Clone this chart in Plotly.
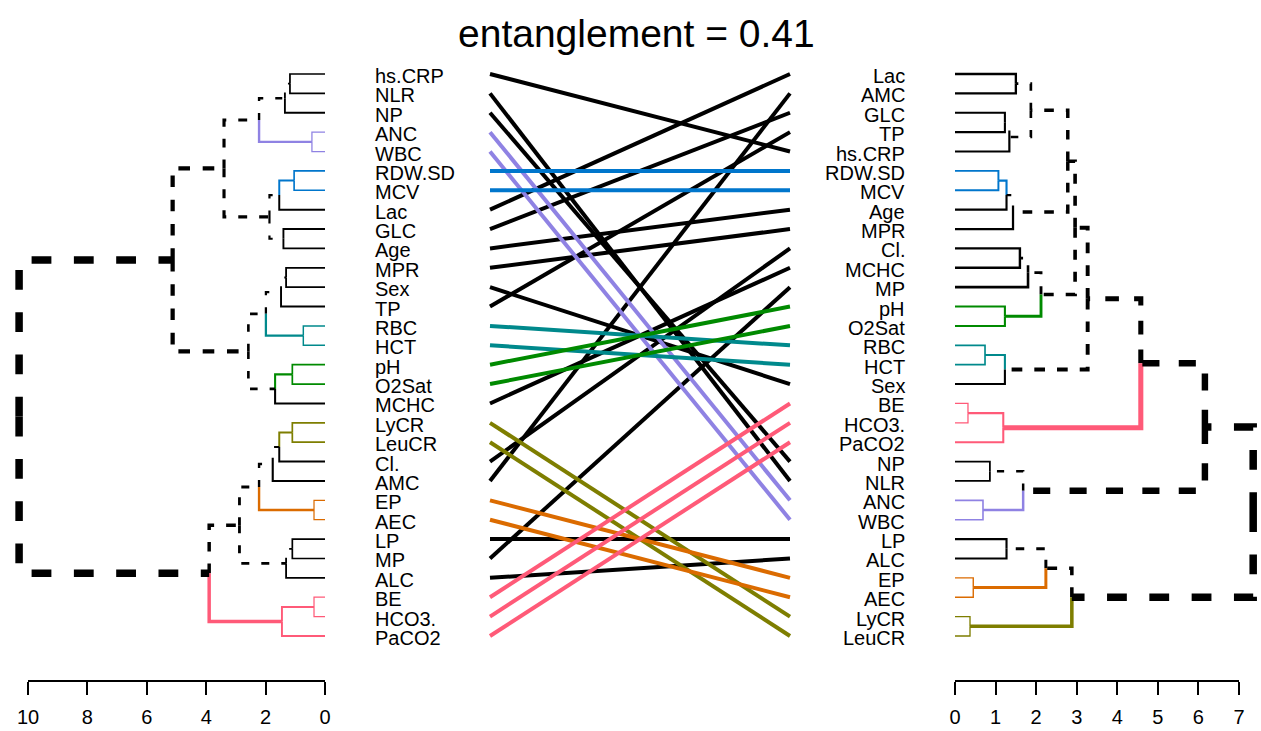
import plotly.graph_objects as go

# ---------------- data ----------------
left_labels = ["hs.CRP", "NLR", "NP", "ANC", "WBC", "RDW.SD", "MCV", "Lac", "GLC", "Age",
               "MPR", "Sex", "TP", "RBC", "HCT", "pH", "O2Sat", "MCHC", "LyCR", "LeuCR",
               "Cl.", "AMC", "EP", "AEC", "LP", "MP", "ALC", "BE", "HCO3.", "PaCO2"]
right_labels = ["Lac", "AMC", "GLC", "TP", "hs.CRP", "RDW.SD", "MCV", "Age", "MPR", "Cl.",
                "MCHC", "MP", "pH", "O2Sat", "RBC", "HCT", "Sex", "BE", "HCO3.", "PaCO2",
                "NP", "NLR", "ANC", "WBC", "LP", "ALC", "EP", "AEC", "LyCR", "LeuCR"]

# merges: (child a, child b, height); "#k" refers to the k-th merge
left_merges = [
    ("hs.CRP", "NLR", 1.18), ("#0", "NP", 1.35), ("ANC", "WBC", 0.44), ("#1", "#2", 2.22),
    ("RDW.SD", "MCV", 1.04), ("#4", "Lac", 1.54), ("GLC", "Age", 1.40), ("#5", "#6", 1.87),
    ("#3", "#7", 3.40), ("MPR", "Sex", 1.31), ("#9", "TP", 1.48), ("RBC", "HCT", 0.73),
    ("#10", "#11", 1.99), ("pH", "O2Sat", 1.10), ("#13", "MCHC", 1.68), ("#12", "#14", 2.58),
    ("#8", "#15", 5.13), ("LyCR", "LeuCR", 1.10), ("#17", "Cl.", 1.54), ("#18", "AMC", 1.76),
    ("EP", "AEC", 0.37), ("#19", "#20", 2.22), ("LP", "MP", 1.10), ("#22", "ALC", 1.31),
    ("#21", "#23", 2.88), ("BE", "HCO3.", 0.37), ("#25", "PaCO2", 1.45), ("#24", "#26", 3.90),
    ("#16", "#27", 10.30),
]
right_merges = [
    ("Lac", "AMC", 1.50), ("GLC", "TP", 1.23), ("#1", "hs.CRP", 1.34), ("#0", "#2", 1.87),
    ("RDW.SD", "MCV", 1.07), ("#4", "Age", 1.27), ("#5", "MPR", 1.43), ("#3", "#6", 2.78),
    ("Cl.", "MCHC", 1.60), ("#8", "MP", 1.80), ("pH", "O2Sat", 1.23), ("#9", "#10", 2.12),
    ("#7", "#11", 2.96), ("RBC", "HCT", 0.74), ("#13", "Sex", 1.23), ("#12", "#14", 3.27),
    ("BE", "HCO3.", 0.32), ("#16", "PaCO2", 1.19), ("#15", "#17", 4.58), ("NP", "NLR", 0.86),
    ("ANC", "WBC", 0.69), ("#19", "#20", 1.68), ("#18", "#21", 6.16), ("LP", "ALC", 1.27),
    ("EP", "AEC", 0.45), ("#23", "#24", 2.24), ("LyCR", "LeuCR", 0.37), ("#25", "#26", 2.88),
    ("#22", "#27", 7.35),
]

common_groups = [["RDW.SD", "MCV"], ["ANC", "WBC"], ["RBC", "HCT"], ["pH", "O2Sat"],
                 ["LyCR", "LeuCR"], ["EP", "AEC"], ["BE", "HCO3.", "PaCO2"]]
group_colors = ["#0076CC", "#8F82E3", "#00898C", "#008A00", "#7E7E00", "#DB6B00", "#FF5A78"]

title_text = "entanglement = 0.41"
left_ticks = [10, 8, 6, 4, 2, 0]
right_ticks = [0, 1, 2, 3, 4, 5, 6, 7]

# ---------------- layout constants ----------------
W, H = 1261, 731
LEAF_TOP_PX, LEAF_BOT_PX = 74, 636
PLOT_BOT_PX = 680
L_ZERO_PX, L_PX_UNIT = 325, 29.7
R_ZERO_PX, R_PX_UNIT = 955, 40.57
LEFT_DOM = (0, 340)
MID_DOM = (340, 940)
RIGHT_DOM = (940, 1261)
LINE_X0_PX, LINE_X1_PX = 490, 790
LEFT_LABEL_PX, RIGHT_LABEL_PX = 373, 907

n = len(left_labels)
step = (LEAF_BOT_PX - LEAF_TOP_PX) / (n - 1)
y_top = 1 - LEAF_TOP_PX / step
y_bot = 1 + (PLOT_BOT_PX - LEAF_TOP_PX) / step


def build(merges, labels):
    nodes = {}
    for i, lab in enumerate(labels):
        nodes[lab] = dict(h=0.0, y=i + 1, leaves=frozenset([lab]), leaf=True)
    for k, (a, b, h) in enumerate(merges):
        na, nb = nodes[a], nodes[b]
        nodes["#%d" % k] = dict(h=h, y=(na["y"] + nb["y"]) / 2, leaves=na["leaves"] | nb["leaves"],
                                leaf=False, children=(a, b))
    return nodes


left_nodes = build(left_merges, left_labels)
right_nodes = build(right_merges, right_labels)
left_sets = {v["leaves"] for v in left_nodes.values() if not v["leaf"]}
right_sets = {v["leaves"] for v in right_nodes.values() if not v["leaf"]}


def group_color(leafset):
    for g, c in zip(common_groups, group_colors):
        if leafset <= set(g):
            return c
    return None


fig = go.Figure()


def add_tree(nodes, merges, other_sets, xaxis):
    hmax = max(m[2] for m in merges)
    for k, (a, b, h) in enumerate(merges):
        p = nodes["#%d" % k]
        w = 1 + 6.5 * h / hmax
        for c in (a, b):
            ch = nodes[c]
            col = group_color(ch["leaves"])
            dash = "solid"
            if col is None:
                col = "black"
                if not ch["leaf"] and ch["leaves"] not in other_sets:
                    dash = "%.1fpx,%.1fpx" % (2.5 * w + 1, max(3 * w, 12))
            fig.add_trace(go.Scatter(
                x=[p["h"], p["h"], ch["h"]], y=[p["y"], ch["y"], ch["y"]],
                mode="lines", line=dict(color=col, width=w, dash=dash),
                xaxis=xaxis, yaxis="y", hoverinfo="skip", showlegend=False))


add_tree(left_nodes, left_merges, right_sets, "x")
add_tree(right_nodes, right_merges, left_sets, "x3")

# connecting lines: black first, coloured on top
conn = []
for lab in left_labels:
    col = group_color(frozenset([lab])) or "black"
    conn.append((lab, col))
for lab, col in sorted(conn, key=lambda t: t[1] != "black"):
    fig.add_trace(go.Scatter(
        x=[0, 1], y=[left_nodes[lab]["y"], right_nodes[lab]["y"]], mode="lines",
        line=dict(color=col, width=4), xaxis="x2", yaxis="y",
        hoverinfo="skip", showlegend=False))

# invisible traces to carry the tick axes
fig.add_trace(go.Scatter(x=[min(left_ticks), max(left_ticks)], y=[1, 1], mode="markers",
                         marker=dict(opacity=0), xaxis="x4", yaxis="y",
                         hoverinfo="skip", showlegend=False))
fig.add_trace(go.Scatter(x=[min(right_ticks), max(right_ticks)], y=[1, 1], mode="markers",
                         marker=dict(opacity=0), xaxis="x5", yaxis="y",
                         hoverinfo="skip", showlegend=False))

annotations = []
FONT = "Liberation Sans, Arial, sans-serif"
LAB_SIZE = 20
for lab in left_labels:
    annotations.append(dict(x=LEFT_LABEL_PX / W, xref="paper", y=left_nodes[lab]["y"], yref="y",
                            text=lab, showarrow=False, xanchor="left", yanchor="middle",
                            font=dict(family=FONT, size=LAB_SIZE, color="black"), yshift=-2))
for lab in right_labels:
    annotations.append(dict(x=RIGHT_LABEL_PX / W, xref="paper", y=right_nodes[lab]["y"], yref="y",
                            text=lab, showarrow=False, xanchor="right", yanchor="middle",
                            font=dict(family=FONT, size=LAB_SIZE, color="black"), yshift=-2))
annotations.append(dict(x=636 / W, xref="paper", y=1 - 33 / H, yref="paper", text=title_text,
                        showarrow=False, xanchor="center", yanchor="middle",
                        font=dict(family=FONT, size=39, color="black")))

lo, hi = LEFT_DOM
mlo, mhi = MID_DOM
rlo, rhi = RIGHT_DOM
mid_unit = LINE_X1_PX - LINE_X0_PX
tickax = dict(showline=True, linewidth=2, linecolor="black", ticks="outside", ticklen=13,
              tickwidth=2, tickcolor="black", showgrid=False, zeroline=False, automargin=False,
              tickfont=dict(family=FONT, size=20, color="black"), anchor="y",
              ticklabelstandoff=5)

fig.update_layout(
    width=W, height=H, margin=dict(l=0, r=0, t=0, b=0, autoexpand=False),
    plot_bgcolor="rgba(0,0,0,0)", paper_bgcolor="white",
    xaxis=dict(domain=[lo / W, hi / W], range=[(L_ZERO_PX - lo) / L_PX_UNIT, (L_ZERO_PX - hi) / L_PX_UNIT],
               visible=False, anchor="y"),
    xaxis2=dict(domain=[mlo / W, mhi / W],
                range=[(mlo - LINE_X0_PX) / mid_unit, (mhi - LINE_X0_PX) / mid_unit],
                visible=False, anchor="y"),
    xaxis3=dict(domain=[rlo / W, rhi / W], range=[(rlo - R_ZERO_PX) / R_PX_UNIT, (rhi - R_ZERO_PX) / R_PX_UNIT],
                visible=False, anchor="y"),
    xaxis4=dict(domain=[(L_ZERO_PX - max(left_ticks) * L_PX_UNIT) / W, L_ZERO_PX / W],
                range=[max(left_ticks), min(left_ticks)], tickvals=left_ticks, **tickax),
    xaxis5=dict(domain=[R_ZERO_PX / W, (R_ZERO_PX + max(right_ticks) * R_PX_UNIT) / W],
                range=[min(right_ticks), max(right_ticks)], tickvals=right_ticks, **tickax),
    yaxis=dict(domain=[1 - PLOT_BOT_PX / H, 1], range=[y_bot, y_top], visible=False),
    annotations=annotations,
)

fig.write_html("out.html", config={"displayModeBar": False},
               post_script="document.body.style.margin='0';document.body.style.overflow='hidden';")
